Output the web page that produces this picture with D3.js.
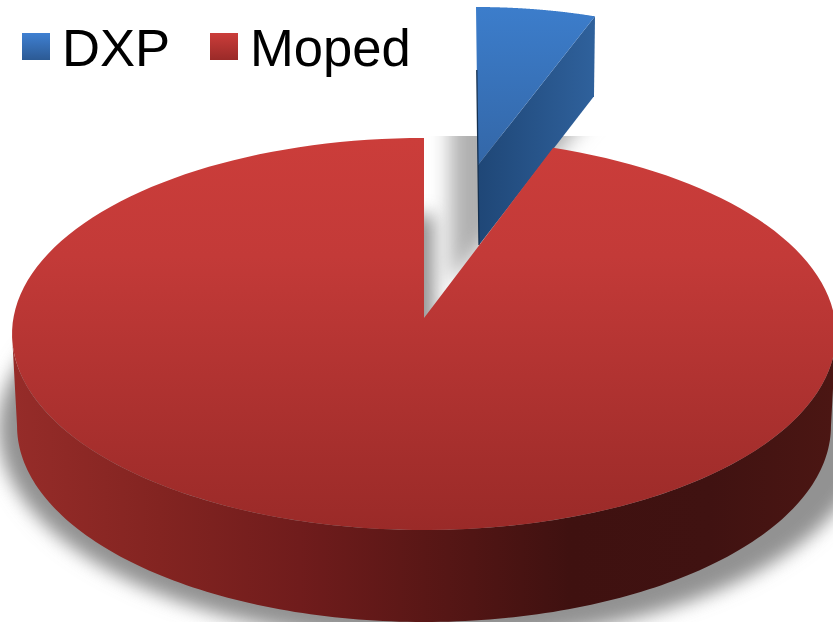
<!DOCTYPE html>
<html>
<head>
<meta charset="utf-8">
<script src="https://cdn.jsdelivr.net/npm/d3@7"></script>
<style>
  html, body { margin: 0; padding: 0; background: #fff; overflow: hidden; }
  svg { display: block; }
</style>
</head>
<body>
<svg id="chart" width="833" height="622"></svg>
<script>
const categories = ["DXP", "Moped"];
const shares = [5.5, 94.5];

const svg = d3.select("#chart");
const width = 833, height = 622;
const defs = svg.append("defs");

const makeGradient = (id, x1, y1, x2, y2, stops) => {
  const g = defs
    .append("linearGradient")
    .attr("id", id)
    .attr("gradientUnits", "userSpaceOnUse")
    .attr("x1", x1)
    .attr("y1", y1)
    .attr("x2", x2)
    .attr("y2", y2);
  stops.forEach(([o, c]) => g.append("stop").attr("offset", o).attr("stop-color", c));
};

makeGradient("redTop", 0, 138, 0, 530, [[0, "#cb3d3a"], [0.3, "#c33a38"], [1, "#9a2a28"]]);
makeGradient("redWall", 12, 0, 833, 0, [
  [0, "#962c29"], [0.18, "#832421"], [0.35, "#701c1c"], [0.5, "#5a1716"],
  [0.68, "#3f1110"], [0.85, "#401211"], [1, "#4b1613"],
]);
makeGradient("blueTop", 0, 8, 0, 170, [[0, "#3c7dcb"], [1, "#3366a6"]]);
makeGradient("blueWall", 479, 0, 595, 0, [[0, "#1f4777"], [1, "#2f619c"]]);
makeGradient("blueKey", 0, 33, 0, 60, [[0, "#3f80d2"], [1, "#2c5a94"]]);
makeGradient("redKey", 0, 33, 0, 60, [[0, "#cb3d3a"], [1, "#9a2a28"]]);

const blur = (id, s) =>
  defs
    .append("filter")
    .attr("id", id)
    .attr("x", "-30%")
    .attr("y", "-30%")
    .attr("width", "160%")
    .attr("height", "160%")
    .append("feGaussianBlur")
    .attr("stdDeviation", s);
blur("softPie", 9);
blur("softSlice", 10);

defs
  .append("clipPath")
  .attr("id", "shadowTop")
  .append("rect")
  .attr("x", 0)
  .attr("y", 136)
  .attr("width", width)
  .attr("height", height - 136);

// pie angles, clockwise from 12 o'clock
const pie = d3.pie().sort(null).startAngle(0).endAngle(2 * Math.PI);
const slices = pie(shares);
const dxp = slices[0];
const moped = slices[1];

// the tilted disc: near side is bigger than far side
const persp = 0.0816;
const disc = ({ cx, cy, rx, ry }) => (t) => {
  const u = Math.sin(t), v = Math.cos(t), w = 1 + persp * v;
  return [cx + (rx * u) / w, cy - (ry * v) / w];
};
// the pulled out slice sits flatter, no perspective needed over such a short arc
const wedge = ({ cx, cy, rx, ry, lean }) => (t) => [
  cx + rx * Math.sin(t) + lean * Math.cos(t),
  cy - ry * Math.cos(t),
];

const topDisc = disc({ cx: 424, cy: 318, rx: 410.6, ry: 194.7 });
const baseDisc = disc({ cx: 424, cy: 410, rx: 405.6, ry: 194.7 });
const shadowDisc = disc({ cx: 434, cy: 411, rx: 434, ry: 212 });

const topWedge = wedge({ cx: 478, cy: 165, rx: 351, ry: 158, lean: -2 });
const baseWedge = wedge({ cx: 479, cy: 245, rx: 345, ry: 158, lean: -2 });
const shadowWedge = wedge({ cx: 450, cy: 285, rx: 450, ry: 197, lean: 0 });

const sweep = (a, b, n = 160) => d3.range(n + 1).map((i) => a + ((b - a) * i) / n);
const line = d3.line();
const fan = (fn, a, b, apex) => line([apex, ...sweep(a, b).map(fn)]) + "Z";

// shadows first
const shadows = svg.append("g");
shadows
  .append("path")
  .attr("d", fan(shadowDisc, moped.startAngle, moped.endAngle, [434, 411]))
  .attr("fill", "#929292")
  .attr("filter", "url(#softPie)");
shadows
  .append("g")
  .attr("clip-path", "url(#shadowTop)")
  .append("path")
  .attr("d", fan(shadowWedge, dxp.startAngle, dxp.endAngle, [450, 285]))
  .attr("fill", "#b0b0b0")
  .attr("filter", "url(#softSlice)");

// DXP, pulled out of the pie
const blue = svg.append("g");
blue
  .append("path")
  .attr("d", line([topWedge(dxp.endAngle), baseWedge(dxp.endAngle), [479, 245], [478, 165]]) + "Z")
  .attr("fill", "url(#blueWall)");
blue
  .append("path")
  .attr("d", fan(topWedge, dxp.startAngle, dxp.endAngle, [478, 165]))
  .attr("fill", "url(#blueTop)");
blue
  .append("path")
  .attr("d", line([[476.8, 70], [478, 165], [479, 245]]))
  .attr("fill", "none")
  .attr("stroke", "#15304f")
  .attr("stroke-width", 1.3);

// Moped: front wall between the two widest points, then top face
const edge = Math.acos(-persp);
const frontA = sweep(edge, 2 * Math.PI - edge);
svg
  .append("path")
  .attr("d", line([...frontA.map(topDisc), ...frontA.slice().reverse().map(baseDisc)]) + "Z")
  .attr("fill", "url(#redWall)");
svg
  .append("path")
  .attr("d", fan(topDisc, moped.startAngle, moped.endAngle, [424, 318]))
  .attr("fill", "url(#redTop)");

// legend
const keyX = d3.scaleOrdinal().domain(categories).range([22, 210]);
const keyFill = d3.scaleOrdinal().domain(categories).range(["url(#blueKey)", "url(#redKey)"]);
const legend = svg
  .selectAll("g.key")
  .data(categories)
  .join("g")
  .attr("class", "key")
  .attr("transform", (d) => `translate(${keyX(d)},0)`);
legend
  .append("rect")
  .attr("y", 33)
  .attr("width", 28)
  .attr("height", 27)
  .attr("fill", (d) => keyFill(d));
legend
  .append("text")
  .attr("x", 40)
  .attr("y", 66)
  .attr("font-family", "Liberation Sans, Arial, sans-serif")
  .attr("font-size", 52.6)
  .attr("fill", "#000")
  .text((d) => d);
</script>
</body>
</html>
